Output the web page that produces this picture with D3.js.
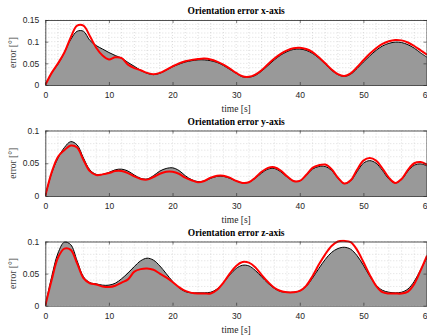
<!DOCTYPE html>
<html>
<head>
<meta charset="utf-8">
<script src="https://cdn.jsdelivr.net/npm/d3@7"></script>
<style>
  html, body { margin: 0; padding: 0; background: #fff; }
  svg { display: block; }
</style>
</head>
<body>
<svg id="chart" width="427" height="336"></svg>
<script>
// Sample times [s]
const time = d3.range(0, 61, 1);

// Reference (gray, filled) and estimate (red) orientation errors, x-axis
const refX = [0,0.028,0.048,0.075,0.105,0.124,0.124,0.103,0.091,0.083,0.075,0.068,0.062,0.052,0.043,0.034,0.027,0.024,0.027,0.034,0.042,0.048,0.053,0.056,0.058,0.058,0.056,0.052,0.045,0.036,0.027,0.019,0.018,0.022,0.032,0.045,0.058,0.069,0.077,0.082,0.083,0.080,0.073,0.062,0.048,0.034,0.024,0.020,0.025,0.038,0.053,0.067,0.080,0.090,0.096,0.099,0.098,0.093,0.085,0.074,0.064];
const estX = [0,0.028,0.050,0.075,0.110,0.137,0.137,0.113,0.086,0.068,0.059,0.064,0.062,0.047,0.039,0.034,0.028,0.025,0.028,0.035,0.043,0.050,0.055,0.058,0.060,0.061,0.059,0.054,0.047,0.038,0.028,0.020,0.019,0.024,0.034,0.048,0.061,0.072,0.080,0.085,0.086,0.083,0.076,0.064,0.050,0.036,0.025,0.021,0.027,0.041,0.057,0.072,0.085,0.095,0.101,0.104,0.103,0.098,0.090,0.080,0.070];

// y-axis
const refY = [0,0.035,0.058,0.074,0.083,0.078,0.058,0.040,0.033,0.033,0.036,0.040,0.041,0.038,0.032,0.027,0.026,0.031,0.038,0.042,0.043,0.039,0.031,0.025,0.022,0.023,0.027,0.030,0.030,0.027,0.023,0.020,0.021,0.027,0.035,0.041,0.042,0.037,0.029,0.023,0.023,0.031,0.041,0.045,0.045,0.039,0.027,0.019,0.023,0.037,0.050,0.054,0.050,0.039,0.026,0.020,0.025,0.038,0.047,0.049,0.046];
const estY = [0,0.036,0.060,0.070,0.077,0.074,0.055,0.038,0.032,0.033,0.035,0.038,0.038,0.035,0.030,0.026,0.025,0.029,0.034,0.037,0.037,0.034,0.028,0.024,0.021,0.023,0.028,0.031,0.031,0.028,0.023,0.020,0.021,0.028,0.037,0.043,0.044,0.039,0.030,0.023,0.023,0.032,0.043,0.047,0.048,0.041,0.028,0.019,0.024,0.040,0.054,0.058,0.054,0.042,0.028,0.020,0.026,0.040,0.050,0.052,0.048];

// z-axis
const refZ = [0,0.045,0.082,0.099,0.095,0.070,0.045,0.036,0.034,0.032,0.032,0.035,0.042,0.051,0.061,0.070,0.074,0.071,0.062,0.050,0.038,0.028,0.022,0.020,0.020,0.020,0.021,0.026,0.036,0.048,0.058,0.063,0.062,0.055,0.045,0.035,0.027,0.022,0.021,0.021,0.023,0.030,0.043,0.058,0.072,0.083,0.089,0.091,0.088,0.078,0.063,0.046,0.032,0.024,0.021,0.020,0.021,0.026,0.038,0.056,0.075];
const estZ = [0,0.040,0.075,0.089,0.087,0.066,0.043,0.035,0.033,0.030,0.029,0.031,0.036,0.041,0.053,0.057,0.058,0.056,0.050,0.044,0.037,0.029,0.023,0.020,0.019,0.019,0.019,0.025,0.036,0.050,0.062,0.068,0.067,0.060,0.048,0.037,0.028,0.023,0.021,0.021,0.023,0.031,0.046,0.064,0.080,0.093,0.100,0.101,0.099,0.087,0.068,0.048,0.031,0.021,0.019,0.019,0.019,0.022,0.034,0.055,0.078];

const titles = ["Orientation error x-axis", "Orientation error y-axis", "Orientation error z-axis"];
const timeTicks = [0, 10, 20, 30, 40, 50, 60];
const errTicksX = [0, 0.05, 0.1, 0.15];
const errTicksYZ = [0, 0.05, 0.1];

const panels = [
  { title: titles[0], ref: refX, est: estX, max: 0.15, ticks: errTicksX, top: 20, bottom: 85 },
  { title: titles[1], ref: refY, est: estY, max: 0.1, ticks: errTicksYZ, top: 130.5, bottom: 196 },
  { title: titles[2], ref: refZ, est: estZ, max: 0.1, ticks: errTicksYZ, top: 241.5, bottom: 305.7 }
];

const svg = d3.select("#chart");
const left = 45.3, right = 427;
const x = d3.scaleLinear().domain([0, 60]).range([left, right]);
const axisColor = "#262626";
const tickFont = "'Liberation Sans', Arial, sans-serif";
const serif = "'Liberation Serif', 'Times New Roman', serif";

panels.forEach((p, i) => {
  const y = d3.scaleLinear().domain([0, p.max]).range([p.bottom, p.top]);
  const g = svg.append("g");
  const clipId = "clip" + i;
  svg.append("clipPath").attr("id", clipId)
    .append("rect").attr("x", left).attr("y", p.top - 2)
    .attr("width", right - left).attr("height", p.bottom - p.top + 2);

  // minor grid
  const gridX = d3.range(0, 61, 2);
  const gridY = d3.range(0, p.max + 1e-9, 0.01);
  const grid = g.append("g").attr("stroke", "#c8c8c8").attr("stroke-width", 0.6)
    .attr("stroke-dasharray", "1,2");
  grid.selectAll("line.gx").data(gridX).join("line")
    .attr("x1", d => x(d)).attr("x2", d => x(d))
    .attr("y1", p.top).attr("y2", p.bottom);
  grid.selectAll("line.gy").data(gridY).join("line")
    .attr("x1", left).attr("x2", right)
    .attr("y1", d => y(d)).attr("y2", d => y(d));

  const pts = (vals) => time.map((t, k) => [t, vals[k]]);
  const curve = d3.curveCatmullRom.alpha(0.5);

  const area = d3.area().x(d => x(d[0])).y0(y(0)).y1(d => y(d[1])).curve(curve);
  const line = d3.line().x(d => x(d[0])).y(d => y(d[1])).curve(curve);

  const plot = g.append("g").attr("clip-path", `url(#${clipId})`);
  plot.append("path").datum(pts(p.ref)).attr("d", area).attr("fill", "#999999");
  plot.append("path").datum(pts(p.ref)).attr("d", line)
    .attr("fill", "none").attr("stroke", "#000").attr("stroke-width", 1);
  plot.append("path").datum(pts(p.est)).attr("d", line)
    .attr("fill", "none").attr("stroke", "#ff0000").attr("stroke-width", 2);

  // axes (inward ticks, boxed)
  const xb = g.append("g").attr("transform", `translate(0,${p.bottom})`)
    .call(d3.axisBottom(x).tickValues(timeTicks).tickFormat(d3.format("d"))
      .tickSizeInner(-3).tickSizeOuter(0).tickPadding(7));
  const xt = g.append("g").attr("transform", `translate(0,${p.top})`)
    .call(d3.axisTop(x).tickValues(timeTicks).tickFormat("")
      .tickSizeInner(-3).tickSizeOuter(0));
  const yl = g.append("g").attr("transform", `translate(${left},0)`)
    .call(d3.axisLeft(y).tickValues(p.ticks).tickFormat(d3.format("~g"))
      .tickSizeInner(-3).tickSizeOuter(0).tickPadding(6));
  const yr = g.append("g").attr("transform", `translate(${right - 0.5},0)`)
    .call(d3.axisRight(y).tickValues(p.ticks).tickFormat("")
      .tickSizeInner(-3).tickSizeOuter(0));
  [xb, xt, yl, yr].forEach(a => {
    a.select(".domain").attr("stroke", axisColor).attr("stroke-width", 0.8);
    a.selectAll(".tick line").attr("stroke", axisColor).attr("stroke-width", 0.6);
    a.selectAll("text").attr("fill", axisColor)
      .style("font-family", tickFont).style("font-size", "8.5px");
  });

  // titles and labels
  svg.append("text").attr("x", (left + right) / 2).attr("y", p.top - 6)
    .attr("text-anchor", "middle").attr("font-family", serif)
    .attr("font-weight", "bold").attr("font-size", 9.5).attr("fill", "#000")
    .text(p.title);
  svg.append("text").attr("x", (left + right) / 2).attr("y", p.bottom + 27)
    .attr("text-anchor", "middle").attr("font-family", serif)
    .attr("font-size", 9.5).attr("fill", axisColor)
    .text("time [s]");
  svg.append("text")
    .attr("transform", `translate(16,${(p.top + p.bottom) / 2}) rotate(-90)`)
    .attr("text-anchor", "middle").attr("font-family", serif)
    .attr("font-size", 9.5).attr("fill", "#444")
    .text("error [°]");
});
</script>
</body>
</html>
